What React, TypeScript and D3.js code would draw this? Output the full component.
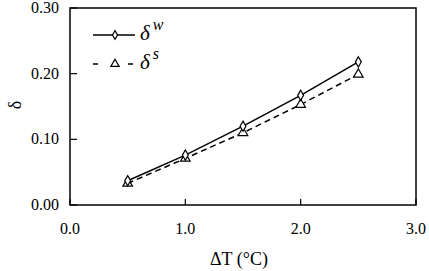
import * as d3 from 'd3';

const deltaT = [0.5, 1.0, 1.5, 2.0, 2.5];
const deltaW = [0.037, 0.076, 0.12, 0.167, 0.218];
const deltaS = [0.033, 0.071, 0.11, 0.153, 0.199];
const xTicks = [0, 1, 2, 3];
const yTicks = [0, 0.1, 0.2, 0.3];

const margin = { top: 8, right: 13, bottom: 66, left: 70 };
const width = 429 - margin.left - margin.right;
const height = 271 - margin.top - margin.bottom;
const font = 'Liberation Serif';

const x = d3.scaleLinear().domain([0, 3]).range([0, width]);
const y = d3.scaleLinear().domain([0, 0.3]).range([height, 0]);

const line = d3.line<number>().x((_, i) => x(deltaT[i])).y(d => y(d));
const diamond = d3.symbol().type(d3.symbolDiamond).size(30)() as string;
const triangle = d3.symbol().type(d3.symbolTriangle).size(40)() as string;
const legDiamond = d3.symbol().type(d3.symbolDiamond).size(22)() as string;
const legTriangle = d3.symbol().type(d3.symbolTriangle).size(30)() as string;

const legend = [
    { sup: 'w', dash: undefined, sym: legDiamond, yy: 35 },
    { sup: 's', dash: '5,30', sym: legTriangle, yy: 64 },
];

const App = () => (
    <svg width={429} height={271} fontFamily={font}
        style={{ position: 'absolute', left: 0, top: 0, background: '#fff' }}>
        <g transform={`translate(${margin.left},${margin.top})`}>
            <rect width={width} height={height} fill="none" stroke="#000" strokeWidth={1.5} />
            {xTicks.map(t => (
                <g key={t} transform={`translate(${x(t)},${height})`}>
                    <line y2={-6} stroke="#000" strokeWidth={1.2} />
                    <text y={29} textAnchor="middle" fontSize={16}>{d3.format('.1f')(t)}</text>
                </g>
            ))}
            {yTicks.map(t => (
                <g key={t} transform={`translate(0,${y(t)})`}>
                    <line x2={7} stroke="#000" strokeWidth={1.2} />
                    <text x={-11} dy="0.32em" textAnchor="end" fontSize={16}>{d3.format('.2f')(t)}</text>
                </g>
            ))}
            <path d={line(deltaS) ?? ''} fill="none" stroke="#000" strokeWidth={1.5} strokeDasharray="6,4" />
            <path d={line(deltaW) ?? ''} fill="none" stroke="#000" strokeWidth={1.5} />
            {deltaS.map((d, i) => (
                <path key={`s${i}`} transform={`translate(${x(deltaT[i])},${y(d)})`} d={triangle}
                    fill="#fff" stroke="#000" strokeWidth={1.2} />
            ))}
            {deltaW.map((d, i) => (
                <path key={`w${i}`} transform={`translate(${x(deltaT[i])},${y(d)})`} d={diamond}
                    fill="#fff" stroke="#000" strokeWidth={1.2} />
            ))}
        </g>
        <text x={239} y={265} textAnchor="middle" fontSize={18}>ΔT (°C)</text>
        <text transform="translate(15,105) rotate(-90)" dy="0.32em" textAnchor="middle" fontSize={18}>δ</text>
        {legend.map(l => (
            <g key={l.sup}>
                <line x1={93} x2={135} y1={l.yy} y2={l.yy} stroke="#000" strokeWidth={1.5} strokeDasharray={l.dash} />
                <path transform={`translate(115,${l.yy})`} d={l.sym} fill="#fff" stroke="#000" strokeWidth={1.2} />
                <text x={140} y={l.yy + 5} fontSize={21} fontStyle="italic">
                    δ<tspan dx={3} dy={-10} fontSize={16}>{l.sup}</tspan>
                </text>
            </g>
        ))}
    </svg>
);

export default App;
